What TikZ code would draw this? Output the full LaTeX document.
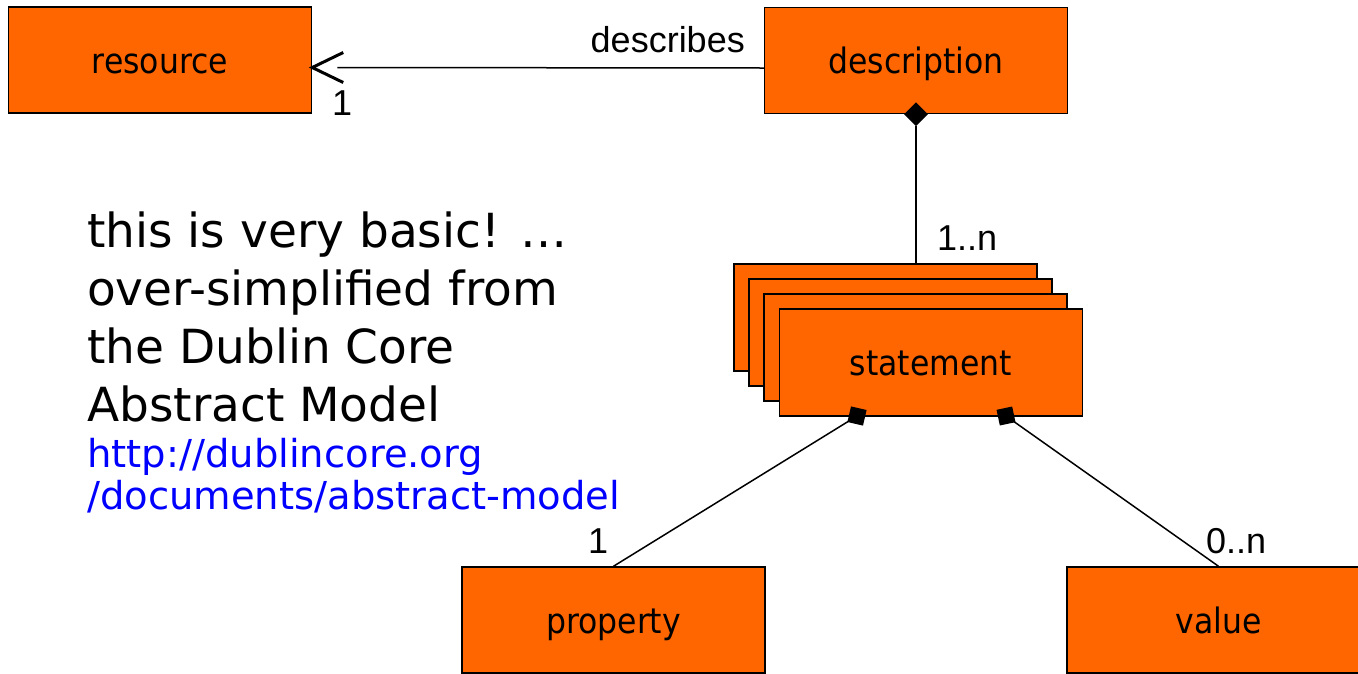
\documentclass[tikz,border=0pt]{standalone}
\usepackage{fontspec}
\setmainfont{DejaVu Sans}
\newfontfamily\lblfont{Liberation Sans}
\newfontfamily\boxfont[FakeStretch=0.9]{DejaVu Sans}
\usetikzlibrary{shapes.geometric}
\definecolor{umlorange}{RGB}{255,102,0}
\definecolor{linkblue}{RGB}{0,0,255}
\begin{document}
\begin{tikzpicture}[x=1pt,y=-1pt,
  umlbox/.style={draw=black, fill=umlorange, line width=1.5pt, minimum width=303pt,
    minimum height=106pt, inner sep=0pt, text height=26pt, text depth=0pt,
    font=\boxfont\fontsize{35}{40}\selectfont},
  conn/.style={draw=black, line width=1.5pt},
  mult/.style={inner sep=0pt, font=\lblfont\fontsize{36}{40}\selectfont},
  note/.style={inner sep=0pt, anchor=base west, font=\fontsize{47}{56}\selectfont},
  link/.style={inner sep=0pt, anchor=base west, text=linkblue, font=\fontsize{38.5}{44}\selectfont},
  squaretip/.style={fill=black, inner sep=0pt, minimum size=16pt}]
\useasboundingbox (0,0) rectangle (1358,673);
\clip (0,0) rectangle (1358,673);

% classes
\node[umlbox] (resource) at (160,60) {resource};
\node[umlbox] (description) at (916,60.5) {description};
\node[umlbox, minimum height=107pt] (s1) at (885.5,317.5) {};
\node[umlbox, minimum height=107pt] (s2) at (900.5,332.5) {};
\node[umlbox, minimum height=107pt] (s3) at (915.5,347.5) {};
\node[umlbox, minimum height=107pt] (statement) at (931,362.5) {statement};
\node[umlbox] (property) at (613.5,620) {property};
\node[umlbox] (value) at (1218.5,620) {value};

% description -> resource association
\coordinate (tipR) at ([yshift=-7.5pt]resource.east);
\coordinate (descL) at ([yshift=-7.5pt]description.west);
\draw[conn] (descL) -- ([xshift=25pt]tipR);
\draw[line width=3pt] ([shift={(31pt,15pt)}]tipR) -- (tipR) -- ([shift={(31pt,-15pt)}]tipR);
\node[mult, anchor=base east] (lblDescribes) at (745,52) {describes};
\node[mult, anchor=base west] (lblOne) at (332,115) {1};

% description aggregates statements
\node[diamond, fill=black, inner sep=0pt, minimum width=24pt, minimum height=24pt] (agg) at (description.south) {};
\draw[conn] (agg.south) -- (agg.south |- s1.north);
\node[mult, anchor=base west] (lblMany) at (937,250) {1..n};

% statement parts
\node[squaretip, rotate=-13] (sqL) at (857,416) {};
\node[squaretip, rotate=12] (sqR) at (1006,416) {};
\draw[conn] (sqL.center) -- (property.north);
\draw[conn] (sqR.center) -- (value.north);
\node[mult, anchor=base west] (lblProp) at (588,553) {1};
\node[mult, anchor=base west] (lblVal) at (1206,553) {0..n};

% note text
\node[note] (n1) at (87,247) {this is very basic! …};
\node[note] (n2) at (87,305) {over-simplified from};
\node[note] (n3) at (87,363) {the Dublin Core};
\node[note] (n4) at (87,421) {Abstract Model};
\node[link] (u1) at (87,467) {http://dublincore.org};
\node[link] (u2) at (87,509) {/documents/abstract-model};
\end{tikzpicture}
\end{document}
